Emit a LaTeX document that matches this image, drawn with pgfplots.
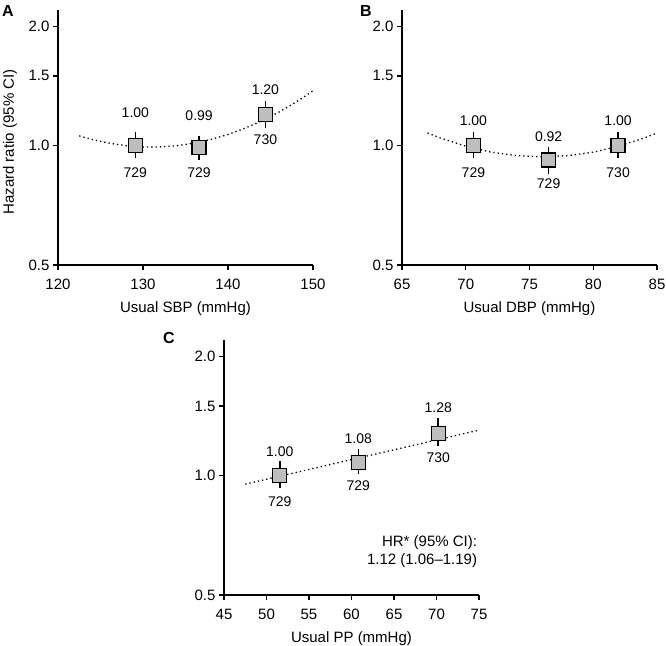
\documentclass[border=0pt]{standalone}
\usepackage{fontspec}
\setmainfont{Liberation Sans}
\usepackage{pgfplots}
\pgfplotsset{compat=1.18}
\pgfkeys{/pgf/number format/assume math mode=true}

\definecolor{sqgray}{RGB}{190,190,190}

\pgfplotsset{
  hrpanel/.style={
    scale only axis, width=255bp, height=255bp,
    anchor=south west,
    axis lines=left,
    axis line style={-, line width=1.4bp},
    ymin=0.5, ymax=2.2,
    ytick={0.5,1,1.5,2}, yticklabels={0.5,1.0,1.5,2.0},
    tick align=outside, major tick length=5bp,
    tick style={line width=1.2bp, black},
    ticklabel style={font=\fontsize{15bp}{17bp}\selectfont},
    xticklabel style={yshift=-6bp},
    xlabel style={font=\fontsize{15bp}{17bp}\selectfont,
      at={(axis description cs:0.5,0)}, anchor=center, yshift=-44bp},
    clip=false,
  },
}
\tikzset{
  ci/.style={black, line width=1.6bp},
  hrsq/.style={mark=square*, mark size=7bp,
    mark options={fill=sqgray, draw=black, line width=1.3bp}},
  fitline/.style={black, line width=1.3bp, dash pattern=on 1.3bp off 3bp},
  lab/.style={font=\fontsize{14bp}{16bp}\selectfont, inner sep=0pt},
}

\begin{document}
\begin{tikzpicture}
\useasboundingbox (0,0) rectangle (666bp,646bp);

% panel letters and shared y label
\node[font=\bfseries\fontsize{16bp}{18bp}\selectfont] at (8bp,635bp) {A};
\node[font=\bfseries\fontsize{16bp}{18bp}\selectfont] at (366bp,635bp) {B};
\node[font=\bfseries\fontsize{16bp}{18bp}\selectfont] at (169bp,308bp) {C};
\node[rotate=90, font=\fontsize{15bp}{17bp}\selectfont] at (10bp,504bp) {Hazard ratio (95\% CI)};

% A: SBP
\begin{axis}[ymode=log, hrpanel, at={(58bp,381bp)},
  xmin=120, xmax=150, xtick={120,130,140,150},
  xlabel={Usual SBP (mmHg)}]
\addplot[fitline] coordinates {(122.5,1.059) (124,1.037) (126,1.015) (128,1.000)
  (130,0.993) (132,0.993) (134,1.000) (136,1.015) (138,1.037) (140,1.067)
  (142,1.107) (144,1.156) (146,1.216) (148,1.288) (150,1.375)};
\addplot[ci] coordinates {(129.1,0.93) (129.1,1.08)};
\addplot[ci] coordinates {(136.6,0.92) (136.6,1.06)};
\addplot[ci] coordinates {(144.4,1.11) (144.4,1.30)};
\addplot[only marks, hrsq] coordinates {(129.1,1.00) (136.6,0.99) (144.4,1.20)};
\node[lab] at (axis cs:129.1,1.215) {1.00};
\node[lab] at (axis cs:129.1,0.857) {729};
\node[lab] at (axis cs:136.6,1.19) {0.99};
\node[lab] at (axis cs:136.6,0.854) {729};
\node[lab] at (axis cs:144.4,1.385) {1.20};
\node[lab] at (axis cs:144.4,1.036) {730};
\end{axis}

% B: DBP
\begin{axis}[ymode=log, hrpanel, at={(402bp,381bp)},
  xmin=65, xmax=85, xtick={65,70,75,80,85},
  xlabel={Usual DBP (mmHg)}]
\addplot[fitline] coordinates {(67,1.077) (68,1.046) (70,0.997) (72,0.963)
  (74,0.944) (76,0.937) (78,0.944) (80,0.963) (82,0.997) (84,1.046) (85,1.077)};
\addplot[ci] coordinates {(70.6,0.93) (70.6,1.08)};
\addplot[ci] coordinates {(76.5,0.85) (76.5,0.99)};
\addplot[ci] coordinates {(81.95,0.93) (81.95,1.08)};
\addplot[only marks, hrsq] coordinates {(70.6,1.00) (76.5,0.92) (81.95,1.00)};
\node[lab] at (axis cs:70.6,1.155) {1.00};
\node[lab] at (axis cs:70.6,0.857) {729};
\node[lab] at (axis cs:76.5,1.056) {0.92};
\node[lab] at (axis cs:76.5,0.80) {729};
\node[lab] at (axis cs:81.95,1.155) {1.00};
\node[lab] at (axis cs:81.95,0.857) {730};
\end{axis}

% C: PP
\begin{axis}[ymode=log, hrpanel, at={(224bp,51bp)},
  xmin=45, xmax=75, xtick={45,50,55,60,65,70,75},
  xlabel={Usual PP (mmHg)}]
\addplot[fitline] coordinates {(47.5,0.952) (74.8,1.30)};
\addplot[ci] coordinates {(51.56,0.93) (51.56,1.09)};
\addplot[ci] coordinates {(60.8,1.01) (60.8,1.17)};
\addplot[ci] coordinates {(70.2,1.19) (70.2,1.40)};
\addplot[only marks, hrsq] coordinates {(51.56,1.00) (60.8,1.08) (70.2,1.28)};
\node[lab] at (axis cs:51.56,1.148) {1.00};
\node[lab] at (axis cs:51.56,0.859) {729};
\node[lab] at (axis cs:60.8,1.24) {1.08};
\node[lab] at (axis cs:60.8,0.946) {729};
\node[lab] at (axis cs:70.2,1.485) {1.28};
\node[lab] at (axis cs:70.2,1.11) {730};
\node[anchor=east, align=right, inner sep=0pt,
  font=\fontsize{15bp}{18bp}\selectfont] at (axis cs:74.8,0.645)
  {HR* (95\% CI):\\1.12 (1.06--1.19)};
\end{axis}
\end{tikzpicture}
\end{document}
